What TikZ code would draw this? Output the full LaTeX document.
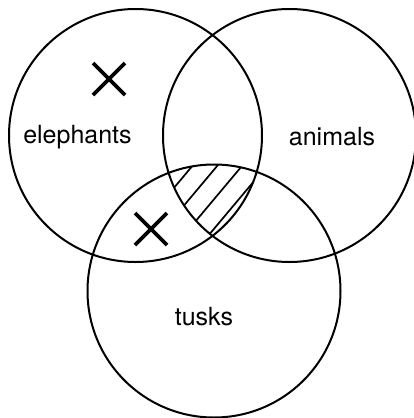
\documentclass[tikz,border=0pt]{standalone}
\usepackage{fontspec}
\setmainfont{TeX Gyre Heros}
\usetikzlibrary{calc}

\tikzset{
  ring/.style={line width=2pt},
  hatchline/.style={line width=1.7pt},
  cross/.style={line width=3.8pt},
  setlabel/.style={font=\fontsize{25}{30}\selectfont, inner sep=0pt}
}

\begin{document}
\begin{tikzpicture}[x=1pt, y=-1pt]
  \useasboundingbox (0,0) rectangle (413,418);
  \coordinate (E) at (135.5, 135.5);
  \coordinate (A) at (289.5, 135.5);
  \coordinate (T) at (214, 291);
  \def\rad{126.5}

  % 三个集合的交集打斜线
  \begin{scope}
    \clip (E) circle (\rad);
    \clip (A) circle (\rad);
    \clip (T) circle (\rad);
    \foreach \c in {254, 273, 292, 311}
      \draw[hatchline] ({\c*0.766+80*0.643}, {\c*0.643-80*0.766})
                    -- ({\c*0.766-80*0.643}, {\c*0.643+80*0.766});
  \end{scope}

  \draw[ring] (E) circle (\rad);
  \draw[ring] (A) circle (\rad);
  \draw[ring] (T) circle (\rad);

  \node[setlabel] (elephants) at (77.5, 137) {elephants};
  \node[setlabel] (animals) at (332, 137) {animals};
  \node[setlabel] (tusks) at (204, 317) {tusks};

  % 空集标记 X
  \coordinate (X1) at (109, 79);
  \coordinate (X2) at (151, 229);
  \foreach \p in {X1, X2} {
    \draw[cross] ($(\p)+(-16,-16)$) -- ($(\p)+(16,16)$);
    \draw[cross] ($(\p)+(-16,16)$) -- ($(\p)+(16,-16)$);
  }
\end{tikzpicture}
\end{document}
